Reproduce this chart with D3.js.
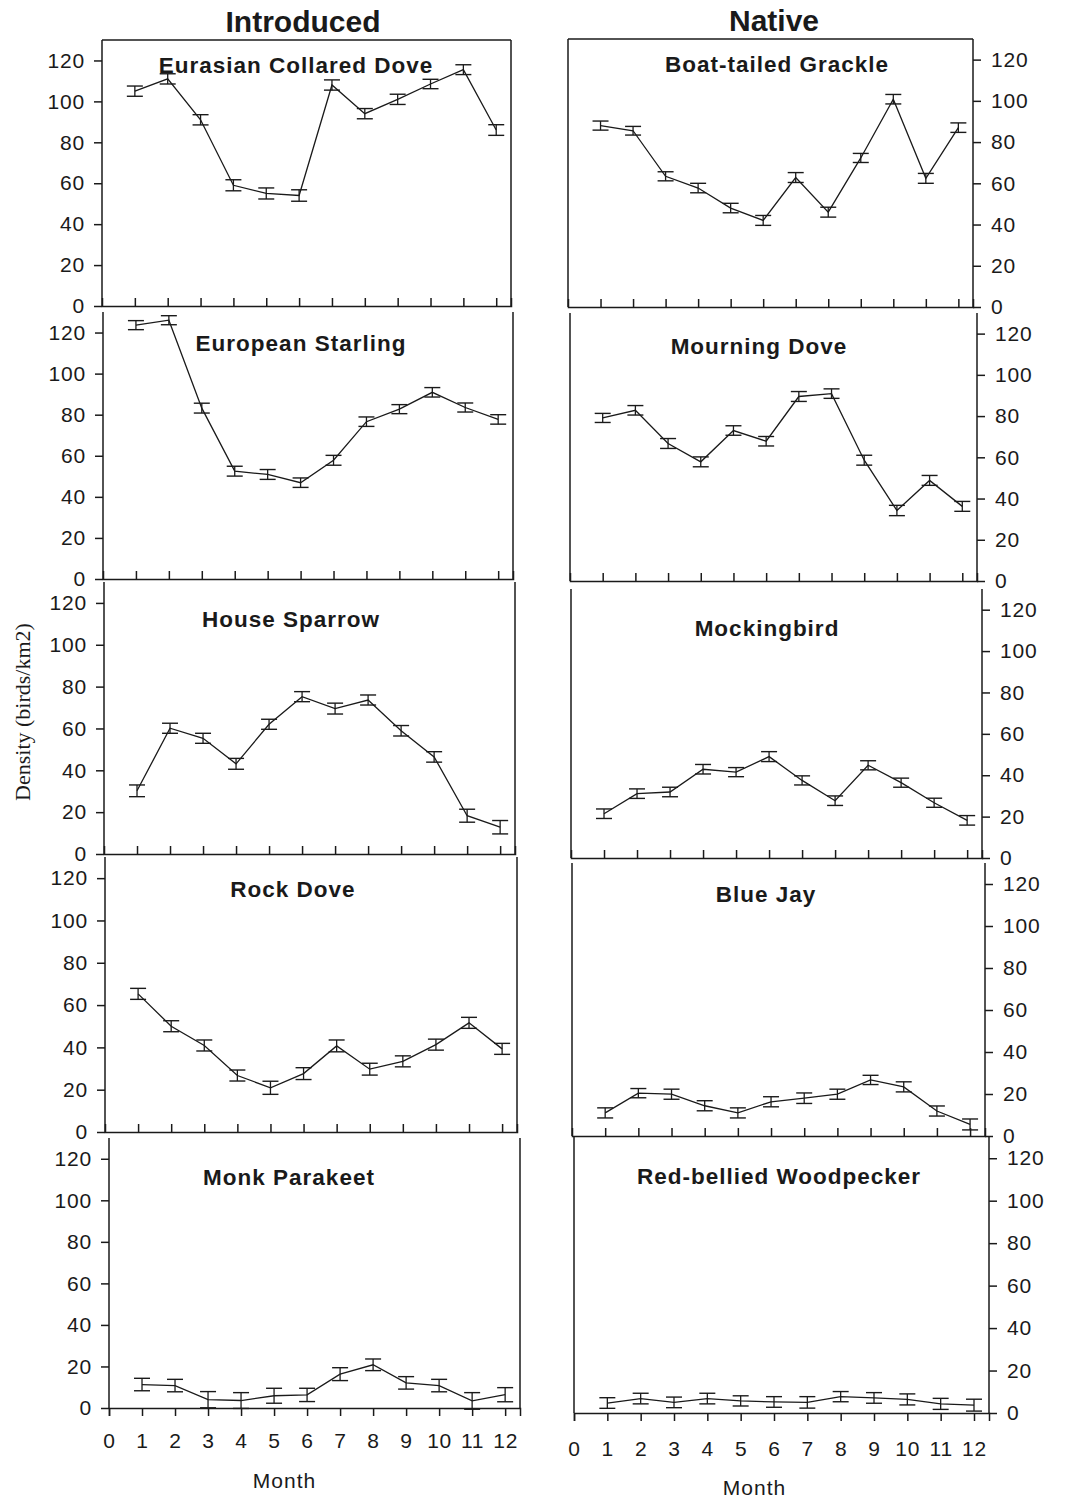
<!DOCTYPE html>
<html><head><meta charset="utf-8">
<script src="https://cdn.jsdelivr.net/npm/d3@7"></script>
<style>body{margin:0;background:#fff} svg{display:block}</style>
</head><body>
<script>
// ---------------- DATA ----------------
const months = [1,2,3,4,5,6,7,8,9,10,11,12];
const monthTicks = [0,1,2,3,4,5,6,7,8,9,10,11,12];
const yTicks = [0,20,40,60,80,100,120];
const groupTitles = ["Introduced", "Native"];
const introducedSpecies = ["Eurasian Collared Dove","European Starling","House Sparrow","Rock Dove","Monk Parakeet"];
const nativeSpecies = ["Boat-tailed Grackle","Mourning Dove","Mockingbird","Blue Jay","Red-bellied Woodpecker"];
const yAxisTitle = "Density (birds/km2)";
const xAxisTitle = "Month";

const collaredDoveMean = [105,111,91,59,55,54,108,94,101,108.5,115.5,86];
const collaredDoveSE   = [2.5,2.5,2.5,2.7,2.7,2.8,2.5,2.5,2.5,2.3,2.4,2.6];
const starlingMean = [123.6,126,83.2,52.5,50.9,46.9,57.8,76.6,82.7,90.9,83.5,77.7];
const starlingSE   = [2.2,2.2,2.4,2.4,2.4,2.3,2.4,2.3,2.2,2.3,2.2,2.3];
const sparrowMean = [30.2,60.1,55.3,43.1,62,75.2,69.5,73.6,58.9,46.4,18.3,12.8];
const sparrowSE   = [2.8,2.4,2.4,2.6,2.4,2.4,2.6,2.4,2.5,2.5,3.1,3.2];
const rockDoveMean = [65.3,50,40.9,26.7,20.9,27.6,40.7,29.7,33.4,41.3,51.6,39.3];
const rockDoveSE   = [2.6,2.6,2.6,2.6,3.1,2.8,2.8,2.8,2.6,2.6,2.6,2.6];
const parakeetMean = [11.3,10.8,4,3.6,5.9,6.3,16.3,20.8,12.1,10.8,3.4,6.4];
const parakeetSE   = [3,3,3.9,3.8,3.6,3.2,3.1,2.8,3,3,4,3.4];

const grackleMean = [88,85.5,63.4,57.7,48,42,62.8,46,72.3,100.8,62.4,87];
const grackleSE   = [2.2,2.1,2.2,2.3,2.3,2.4,2.4,2.4,2.2,2.3,2.4,2.3];
const mourningDoveMean = [79.1,82.8,66.7,57.8,73,67.8,89.5,90.9,58.6,34.2,48.8,36.2];
const mourningDoveSE   = [2.2,2.3,2.4,2.4,2.3,2.3,2.4,2.3,2.4,2.5,2.4,2.4];
const mockingbirdMean = [21.4,31.1,31.9,42.9,41.5,49,37.5,27.7,44.8,36.4,26.7,18.2];
const mockingbirdSE   = [2.3,2.3,2.3,2.3,2.2,2.4,2.2,2.3,2.2,2.2,2.2,2.3];
const blueJayMean = [11,20.4,19.9,14.4,11,16.3,18,19.9,26.7,23.4,11.9,5.5];
const blueJaySE   = [2.4,2.2,2.4,2.4,2.4,2.4,2.5,2.4,2.2,2.4,2.4,2.6];
const woodpeckerMean = [4.7,6.8,5,6.8,5.7,5.2,5,7.7,7.1,6.4,4.3,3.7];
const woodpeckerSE   = [2.5,2.5,2.5,2.5,2.4,2.5,2.7,2.4,2.5,2.6,2.6,2.8];

const introducedMeans = [collaredDoveMean, starlingMean, sparrowMean, rockDoveMean, parakeetMean];
const introducedSEs = [collaredDoveSE, starlingSE, sparrowSE, rockDoveSE, parakeetSE];
const nativeMeans = [grackleMean, mourningDoveMean, mockingbirdMean, blueJayMean, woodpeckerMean];
const nativeSEs = [grackleSE, mourningDoveSE, mockingbirdSE, blueJaySE, woodpeckerSE];

// ---------------- LAYOUT ----------------
const leftBoxes = [
  {l:102,r:511,t:40,z:306, tx:296, ty:73},
  {l:103,r:513,t:312,z:579, tx:301, ty:351},
  {l:104,r:515,t:582,z:854, tx:291, ty:627},
  {l:105,r:517,t:857,z:1132, tx:293, ty:897},
  {l:109,r:520,t:1138,z:1408, tx:289, ty:1185}
];
const rightBoxes = [
  {l:568,r:973,t:39,z:307, tx:777, ty:72},
  {l:570,r:977,t:313,z:581, tx:759, ty:354},
  {l:571,r:982,t:589,z:858, tx:767, ty:636},
  {l:572,r:985,t:863,z:1136, tx:766, ty:902},
  {l:574,r:989,t:1137,z:1413, tx:779, ty:1184}
];
const ink = "#1a1a1a";
const sans = "'Liberation Sans', Arial, sans-serif";

const svg = d3.select("body").append("svg").attr("width",1069).attr("height",1499);

function drawPanel(box, title, mean, se, side, row) {
  const x = d3.scaleLinear().domain([0,12.45]).range([box.l, box.r]);
  const y = d3.scaleLinear().domain([0,130]).range([box.z, box.t]);
  const g = svg.append("g");
  const isBottom = row === 4;

  g.append("line").attr("x1",box.l).attr("x2",box.l).attr("y1",box.t).attr("y2",box.z)
    .attr("stroke",ink).attr("stroke-width",1.5);
  g.append("line").attr("x1",box.r).attr("x2",box.r).attr("y1",box.t).attr("y2",box.z)
    .attr("stroke",ink).attr("stroke-width",1.5);
  if (row === 0) {
    g.append("line").attr("x1",box.l).attr("x2",box.r).attr("y1",box.t).attr("y2",box.t)
      .attr("stroke",ink).attr("stroke-width",1.5);
  }

  const yAxis = (side === "left" ? d3.axisLeft(y) : d3.axisRight(y))
    .tickValues(yTicks).tickSize(8).tickSizeOuter(0).tickPadding(side==="left"?9:10);
  const ya = g.append("g").attr("transform",`translate(${side==="left"?box.l:box.r},0)`).call(yAxis);
  ya.select(".domain").remove();

  const xAxis = d3.axisBottom(x).tickSizeOuter(0);
  if (isBottom) {
    xAxis.tickValues(monthTicks).tickSize(8).tickPadding(side==="left"?17:20);
  } else {
    xAxis.tickValues(months).tickSize(-8).tickFormat("");
  }
  g.append("g").attr("transform",`translate(0,${box.z})`).call(xAxis);

  g.selectAll(".tick line, .domain").attr("stroke",ink).attr("stroke-width",1.5);
  g.selectAll(".tick text").attr("fill",ink).style("font-family",sans)
    .style("font-size","21px").style("letter-spacing","0.8px");

  const pts = months.map((m,i)=>({m, v:mean[i], e:se[i]}));
  g.append("path").datum(pts)
    .attr("d", d3.line().x(d=>x(d.m)).y(d=>y(d.v)))
    .attr("fill","none").attr("stroke",ink).attr("stroke-width",1.3);

  const eb = g.selectAll(".eb").data(pts).enter().append("g");
  eb.append("line").attr("x1",d=>x(d.m)).attr("x2",d=>x(d.m))
    .attr("y1",d=>y(d.v-d.e)).attr("y2",d=>y(d.v+d.e)).attr("stroke",ink).attr("stroke-width",1.3);
  eb.append("line").attr("x1",d=>x(d.m)-8).attr("x2",d=>x(d.m)+8)
    .attr("y1",d=>y(d.v+d.e)).attr("y2",d=>y(d.v+d.e)).attr("stroke",ink).attr("stroke-width",1.4);
  eb.append("line").attr("x1",d=>x(d.m)-8).attr("x2",d=>x(d.m)+8)
    .attr("y1",d=>y(d.v-d.e)).attr("y2",d=>y(d.v-d.e)).attr("stroke",ink).attr("stroke-width",1.4);

  g.append("text").attr("x",box.tx).attr("y",box.ty).attr("text-anchor","middle")
    .style("font-family",sans).style("font-weight","bold").style("font-size","22.5px")
    .style("letter-spacing","1px").attr("fill",ink).text(title);

  if (isBottom) {
    g.append("text").attr("x",(box.l+box.r)/2 - (side==="left"?30:27)).attr("y", side==="left"?1488:1495)
      .attr("text-anchor","middle").style("font-family",sans).style("font-size","21px")
      .style("letter-spacing","1px").attr("fill",ink).text(xAxisTitle);
  }
}

introducedSpecies.forEach((s,i)=>drawPanel(leftBoxes[i], s, introducedMeans[i], introducedSEs[i], "left", i));
nativeSpecies.forEach((s,i)=>drawPanel(rightBoxes[i], s, nativeMeans[i], nativeSEs[i], "right", i));

svg.append("text").attr("x",303).attr("y",32).attr("text-anchor","middle")
  .style("font-family",sans).style("font-weight","bold").style("font-size","30px").attr("fill",ink).text(groupTitles[0]);
svg.append("text").attr("x",774).attr("y",31).attr("text-anchor","middle")
  .style("font-family",sans).style("font-weight","bold").style("font-size","30px").attr("fill",ink).text(groupTitles[1]);

svg.append("text").attr("transform","translate(30,712) rotate(-90)").attr("text-anchor","middle")
  .style("font-family","'Liberation Serif', 'Times New Roman', serif").style("font-size","22px")
  .attr("fill",ink).text(yAxisTitle);
</script>
</body></html>
